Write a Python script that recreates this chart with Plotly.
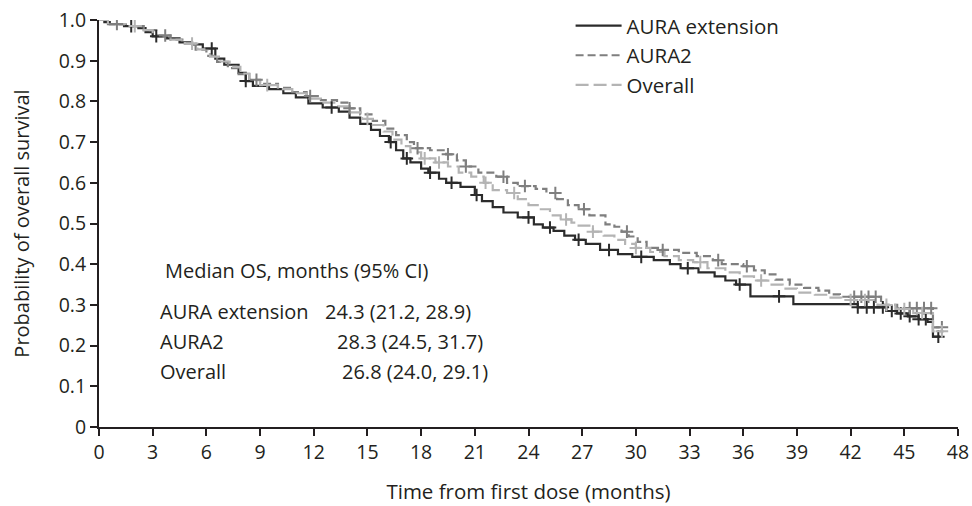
import numpy as np
import plotly.graph_objects as go

# Kaplan-Meier step estimates: event times (months) and survival after each step
ext_t = [0, 0.3, 0.6, 1.4, 2.2, 2.6, 3.0, 3.8, 4.5, 5.2, 5.8, 6.5, 7.0, 7.8, 8.2, 8.6, 9.5,
         10.3, 11.0, 11.7, 12.5, 13.4, 14.0, 14.6, 15.2, 15.7, 16.2, 16.6, 17.0, 17.4, 18.0,
         18.4, 19.0, 19.4, 20.2, 21.0, 21.4, 22.0, 22.6, 23.4, 24.3, 24.8, 25.4, 26.0, 26.6,
         27.2, 28.0, 29.0, 29.8, 31.0, 31.9, 32.5, 33.5, 34.4, 35.0, 35.6, 36.4, 38.8, 42.4,
         44.0, 44.6, 45.2, 45.8, 46.3, 46.6, 47.0]
ext_s = [1.0, 0.995, 0.99, 0.985, 0.98, 0.97, 0.96, 0.955, 0.945, 0.94, 0.93, 0.905, 0.89,
         0.87, 0.85, 0.838, 0.83, 0.82, 0.81, 0.795, 0.785, 0.775, 0.76, 0.745, 0.73, 0.715,
         0.70, 0.68, 0.66, 0.65, 0.635, 0.625, 0.61, 0.60, 0.59, 0.57, 0.555, 0.54, 0.527,
         0.515, 0.498, 0.49, 0.482, 0.47, 0.46, 0.45, 0.435, 0.425, 0.418, 0.41, 0.40, 0.39,
         0.38, 0.37, 0.36, 0.35, 0.321, 0.302, 0.294, 0.285, 0.279, 0.272, 0.265, 0.258,
         0.222, 0.222]

aura2_t = [0, 0.5, 1.5, 2.5, 3.2, 4.0, 4.8, 5.4, 6.0, 6.6, 7.2, 7.8, 8.4, 9.0, 10.0, 10.8,
           11.6, 12.4, 13.3, 14.0, 14.6, 15.3, 16.0, 16.6, 17.2, 17.6, 18.5, 19.4, 20.0, 20.5,
           21.2, 22.2, 22.8, 23.4, 24.4, 25.0, 25.6, 26.2, 26.8, 27.4, 28.3, 28.8, 29.2, 29.6,
           30.1, 30.6, 31.4, 32.4, 33.4, 34.3, 34.8, 36.0, 36.6, 37.2, 37.8, 38.6, 39.4, 40.2,
           40.8, 41.4, 43.7, 44.6, 46.6, 47.2]
aura2_s = [1.0, 0.99, 0.985, 0.975, 0.962, 0.952, 0.942, 0.927, 0.912, 0.897, 0.882, 0.867,
           0.853, 0.843, 0.833, 0.823, 0.813, 0.803, 0.797, 0.783, 0.768, 0.752, 0.733,
           0.717, 0.70, 0.685, 0.68, 0.67, 0.655, 0.64, 0.625, 0.615, 0.60, 0.592, 0.585,
           0.575, 0.56, 0.545, 0.535, 0.52, 0.498, 0.492, 0.48, 0.468, 0.455, 0.44, 0.435,
           0.428, 0.42, 0.41, 0.40, 0.395, 0.385, 0.375, 0.362, 0.35, 0.342, 0.335, 0.326,
           0.32, 0.30, 0.292, 0.245, 0.245]

overall_t = [0, 0.5, 1.5, 2.5, 3.0, 4.0, 4.8, 5.5, 6.2, 6.7, 7.3, 7.9, 8.4, 9.0, 10.0, 10.8,
             11.6, 12.4, 13.3, 14.0, 14.7, 15.3, 15.9, 16.4, 16.9, 17.4, 18.0, 18.8, 19.5,
             20.1, 20.8, 21.5, 22.0, 22.8, 23.4, 24.0, 24.6, 25.2, 25.8, 26.4, 26.8, 27.6,
             28.2, 28.8, 29.4, 30.0, 30.8, 31.6, 32.4, 33.2, 34.0, 35.0, 35.8, 36.6, 37.4,
             38.2, 39.0, 40.0, 40.8, 41.5, 43.5, 44.5, 45.5, 46.6, 47.2]
overall_s = [1.0, 0.99, 0.985, 0.975, 0.962, 0.952, 0.942, 0.928, 0.91, 0.898, 0.885, 0.868,
             0.852, 0.84, 0.83, 0.82, 0.807, 0.797, 0.788, 0.773, 0.757, 0.742, 0.726, 0.706,
             0.69, 0.675, 0.66, 0.65, 0.64, 0.625, 0.615, 0.60, 0.582, 0.575, 0.56, 0.545,
             0.535, 0.52, 0.51, 0.502, 0.495, 0.48, 0.47, 0.46, 0.45, 0.44, 0.43, 0.42, 0.41,
             0.405, 0.39, 0.38, 0.37, 0.36, 0.35, 0.34, 0.33, 0.325, 0.318, 0.312, 0.30, 0.29,
             0.28, 0.235, 0.235]

# Censoring times (months)
ext_cens = [1.8, 3.2, 6.3, 8.2, 13.0, 16.3, 17.2, 18.5, 19.7, 21.1, 24.0, 25.2, 26.8, 28.5,
            30.3, 32.9, 35.8, 38.0, 42.4, 42.9, 43.3, 43.8, 44.3, 44.8, 45.3, 45.8, 46.2, 46.9]
aura2_cens = [1.0, 3.7, 8.8, 11.8, 14.0, 17.8, 19.5, 20.5, 22.6, 23.8, 25.5, 27.1, 29.5,
              31.5, 34.6, 36.2, 42.2, 42.6, 43.0, 43.4, 45.3, 45.7, 46.1, 46.5, 47.1]
overall_cens = [2.0, 5.2, 9.4, 15.0, 18.2, 19.0, 21.6, 23.2, 26.1, 27.6, 30.0, 33.6, 37.0,
                42.0, 42.8, 44.0, 45.0, 46.0, 47.1]

# Median OS table
groups = ["AURA extension", "AURA2", "Overall"]
median_os = [24.3, 28.3, 26.8]
ci_low = [21.2, 24.5, 24.0]
ci_high = [28.9, 31.7, 29.1]

x_ticks = list(range(0, 49, 3))
y_ticks = [0, 0.1, 0.2, 0.3, 0.4, 0.5, 0.6, 0.7, 0.8, 0.9, 1.0]
y_ticktext = ["0", "0.1", "0.2", "0.3", "0.4", "0.5", "0.6", "0.7", "0.8", "0.9", "1.0"]

FONT = "Open Sans"
TXT = "#231f20"

series = [
    ("AURA extension", ext_t, ext_s, ext_cens, "#2b2b2b", "solid"),
    ("AURA2", aura2_t, aura2_s, aura2_cens, "#7f7f7f", "8px,4px"),
    ("Overall", overall_t, overall_s, overall_cens, "#b4b4b4", "13px,5px"),
]

fig = go.Figure()
for name, t, s, cens, color, dash in series:
    fig.add_trace(go.Scatter(
        x=t, y=s, mode="lines", name=name,
        line=dict(color=color, width=2.2, dash=dash, shape="hv"),
        hoverinfo="skip",
    ))
for name, t, s, cens, color, dash in series:
    t_arr = np.asarray(t)
    s_arr = np.asarray(s)
    idx = np.searchsorted(t_arr, np.asarray(cens), side="right") - 1
    fig.add_trace(go.Scatter(
        x=cens, y=s_arr[idx], mode="markers", showlegend=False,
        marker=dict(symbol="cross-thin-open", size=9, color=color,
                    line=dict(color=color, width=2)),
        hoverinfo="skip",
    ))

# Median OS summary block
TBL = 20
fig.add_annotation(x=0.074, y=0.385, xref="paper", yref="paper",
                   text="Median OS, months (95% CI)", showarrow=False,
                   xanchor="left", yanchor="middle",
                   font=dict(family=FONT, size=TBL, color=TXT))
row_y = [0.283, 0.209, 0.136]
val_x = [0.261, 0.275, 0.280]
for g, m, lo, hi, yy, vx in zip(groups, median_os, ci_low, ci_high, row_y, val_x):
    fig.add_annotation(x=0.069, y=yy, xref="paper", yref="paper", text=g,
                       showarrow=False, xanchor="left", yanchor="middle",
                       font=dict(family=FONT, size=TBL, color=TXT))
    fig.add_annotation(x=vx, y=yy, xref="paper", yref="paper",
                       text=f"{m:.1f} ({lo:.1f}, {hi:.1f})",
                       showarrow=False, xanchor="left", yanchor="middle",
                       font=dict(family=FONT, size=TBL, color=TXT))

axis_common = dict(
    showline=True, linecolor="#231f20", linewidth=2,
    ticks="outside", ticklen=7, tickwidth=2, tickcolor="#231f20",
    showgrid=False, zeroline=False, automargin=False,
    tickfont=dict(family=FONT, size=19.5, color=TXT),
)

fig.update_layout(
    width=972, height=506,
    margin=dict(l=99, r=14, t=20, b=79, autoexpand=False),
    paper_bgcolor="white", plot_bgcolor="white",
    font=dict(family=FONT, color=TXT),
    xaxis=dict(range=[0, 48], tickvals=x_ticks, **axis_common,
               title=dict(text="Time from first dose (months)", standoff=20,
                          font=dict(family=FONT, size=20.5, color=TXT))),
    yaxis=dict(range=[0, 1], tickvals=y_ticks, ticktext=y_ticktext, **axis_common,
               title=dict(text="Probability of overall survival", standoff=24,
                          font=dict(family=FONT, size=20, color=TXT))),
    legend=dict(x=0.549, y=1.035, xanchor="left", yanchor="top",
                bgcolor="rgba(0,0,0,0)", font=dict(family=FONT, size=20.5, color=TXT),
                tracegroupgap=0, itemwidth=46),
    showlegend=True,
)

fig.write_html("out.html")
